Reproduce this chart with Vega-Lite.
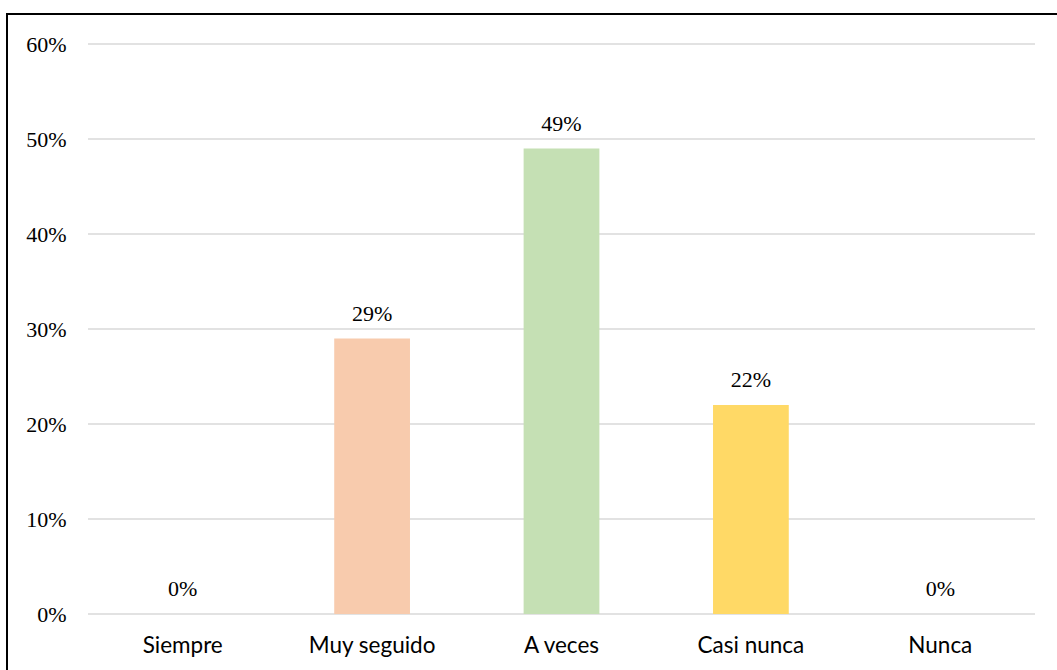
{
  "$schema": "https://vega.github.io/schema/vega-lite/v6.json",
  "width": 1050,
  "height": 656,
  "autosize": "none",
  "padding": {"left": 7, "top": 14, "right": 0, "bottom": 0},
  "background": "white",
  "view": {"stroke": "black", "strokeWidth": 2, "strokeDash": [1050, 1706, 656, 10]},
  "data": {
    "values": [
      {"category": "Siempre", "value": 0},
      {"category": "Muy seguido", "value": 0.29},
      {"category": "A veces", "value": 0.49},
      {"category": "Casi nunca", "value": 0.22},
      {"category": "Nunca", "value": 0}
    ]
  },
  "resolve": {"scale": {"x": "independent"}, "axis": {"x": "independent"}},
  "layer": [
    {
      "data": {
        "values": [
          {"value": 0}, {"value": 0.1}, {"value": 0.2}, {"value": 0.3},
          {"value": 0.4}, {"value": 0.5}, {"value": 0.6}
        ]
      },
      "mark": {"type": "rule", "color": "#d9d9d9", "strokeWidth": 1.5},
      "encoding": {
        "y": {
          "field": "value", "type": "quantitative",
          "scale": {"domain": [0, 0.6], "range": [600, 30], "nice": false},
          "axis": {
            "title": null, "domain": false, "ticks": false, "tickSize": 0, "grid": false,
            "values": [0, 0.1, 0.2, 0.3, 0.4, 0.5, 0.6], "format": ".0%",
            "offset": -59, "labelPadding": 0, "labelFont": "Liberation Serif",
            "labelFontSize": 22, "labelColor": "black"
          }
        },
        "x": {"datum": 0, "type": "quantitative", "scale": {"domain": [0, 1], "range": [81, 1028], "nice": false, "zero": false}, "axis": null},
        "x2": {"datum": 1}
      }
    },
    {
      "layer": [
        {
          "mark": {"type": "bar"},
          "encoding": {
            "x": {
              "field": "category", "type": "nominal", "sort": null,
              "scale": {"range": [81, 1028], "paddingInner": 0.6, "paddingOuter": 0.3},
              "axis": {
                "title": null, "domain": false, "ticks": false, "tickSize": 0, "labelAngle": 0,
                "offset": -56, "labelPadding": 20, "labelFont": "Lato", "labelFontSize": 22.5,
                "labelColor": "black"
              }
            },
            "y": {"field": "value", "type": "quantitative"},
            "color": {
              "field": "category", "type": "nominal",
              "scale": {
                "domain": ["Siempre", "Muy seguido", "A veces", "Casi nunca", "Nunca"],
                "range": ["#9dc3e6", "#f8cbad", "#c5e0b4", "#ffd966", "#f4b183"]
              },
              "legend": null
            }
          }
        },
        {
          "mark": {"type": "text", "font": "Liberation Serif", "fontSize": 22, "color": "black", "baseline": "alphabetic", "dy": -18},
          "encoding": {
            "x": {"field": "category", "type": "nominal", "sort": null},
            "y": {"field": "value", "type": "quantitative"},
            "text": {"field": "value", "type": "quantitative", "format": ".0%"}
          }
        }
      ]
    }
  ]
}
